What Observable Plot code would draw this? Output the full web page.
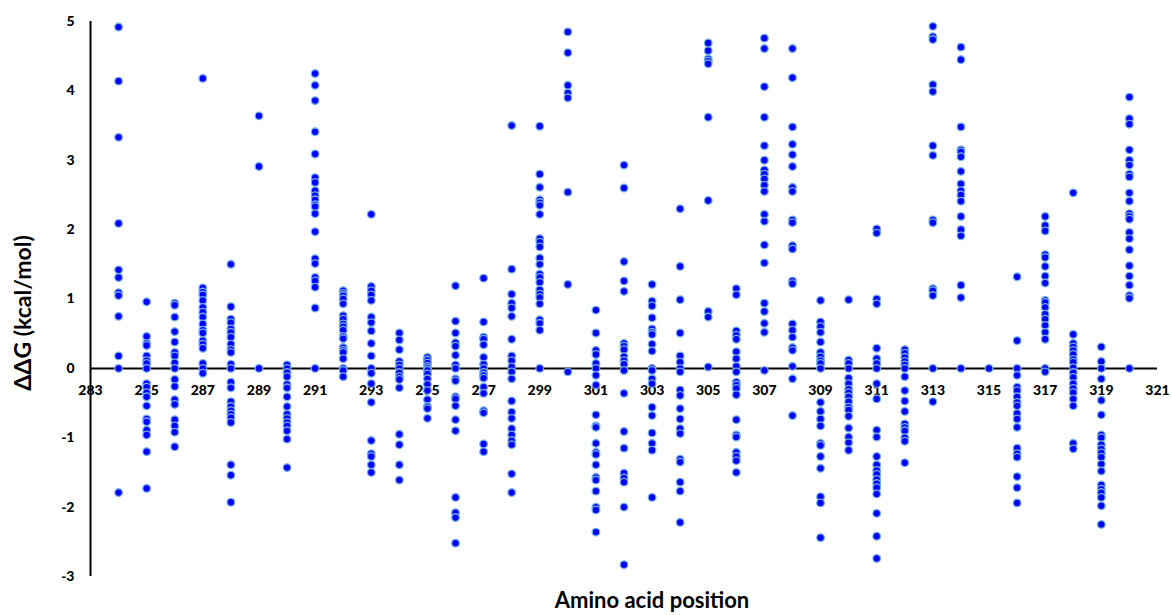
<!DOCTYPE html>
<html>
<head>
<meta charset="utf-8">
<script src="https://cdn.jsdelivr.net/npm/d3@7"></script>
<script src="https://cdn.jsdelivr.net/npm/@observablehq/plot@0.6"></script>
<style>
  html, body { margin: 0; padding: 0; background: #fff; }
  #chart svg { display: block; }
</style>
</head>
<body>
<div id="chart"></div>
<script>
// ΔΔG values (kcal/mol) per amino acid position
const pos284 = [4.92, 4.14, 3.33, 2.09, 1.42, 1.31, 1.09, 1.05, 0.75, 0.18, 0, -1.79];
const pos285 = [0.96, 0.46, 0.36, 0.33, 0.18, 0.11, 0.07, 0, -0.22, -0.27, -0.35, -0.41, -0.54, -0.73, -0.77, -0.89, -0.96, -1.2, -1.73];
const pos286 = [0.94, 0.91, 0.74, 0.53, 0.38, 0.23, 0.18, 0.08, 0, -0.16, -0.26, -0.45, -0.52, -0.74, -0.83, -0.92, -1.13];
const pos287 = [4.18, 1.16, 1.1, 1.06, 0.98, 0.88, 0.81, 0.74, 0.64, 0.55, 0.51, 0.4, 0.35, 0.29, 0.07, 0, -0.07];
const pos288 = [1.5, 0.89, 0.71, 0.66, 0.57, 0.52, 0.45, 0.35, 0.27, 0.23, 0.06, 0, -0.2, -0.28, -0.48, -0.55, -0.61, -0.66, -0.71, -0.78, -1.39, -1.54, -1.93];
const pos289 = [3.64, 2.91, 0];
const pos290 = [0.05, 0, -0.06, -0.12, -0.23, -0.28, -0.41, -0.55, -0.66, -0.72, -0.78, -0.83, -0.9, -1.02, -1.43];
const pos291 = [4.25, 4.08, 3.86, 3.41, 3.09, 2.75, 2.68, 2.56, 2.49, 2.43, 2.36, 2.33, 2.23, 1.97, 1.58, 1.51, 1.31, 1.26, 1.17, 0.87, 0];
const pos292 = [1.12, 1.08, 1.05, 1.0, 0.93, 0.76, 0.71, 0.64, 0.6, 0.55, 0.46, 0.43, 0.3, 0.26, 0.23, 0.14, 0, -0.03, -0.12];
const pos293 = [2.22, 1.18, 1.12, 1.06, 0.98, 0.74, 0.66, 0.54, 0.36, 0.18, 0, -0.07, -0.22, -0.49, -1.04, -1.23, -1.27, -1.39, -1.5];
const pos294 = [0.51, 0.41, 0.27, 0.1, 0.05, 0, -0.06, -0.12, -0.16, -0.28, -0.95, -1.1, -1.39, -1.61];
const pos295 = [0.16, 0.12, 0.08, 0.03, 0, -0.03, -0.08, -0.15, -0.23, -0.32, -0.45, -0.55, -0.58, -0.72];
const pos296 = [1.19, 0.68, 0.51, 0.37, 0.32, 0.19, 0.05, 0, -0.15, -0.18, -0.41, -0.44, -0.54, -0.74, -0.9, -1.86, -2.08, -2.15, -2.52];
const pos297 = [1.3, 0.67, 0.45, 0.42, 0.34, 0.16, 0.06, 0, -0.06, -0.1, -0.14, -0.27, -0.36, -0.61, -0.64, -1.09, -1.2];
const pos298 = [3.5, 1.43, 1.07, 0.94, 0.87, 0.75, 0.42, 0.18, 0.11, 0.02, -0.05, -0.15, -0.47, -0.63, -0.72, -0.87, -0.96, -1.04, -1.1, -1.52, -1.79];
const pos299 = [3.49, 2.8, 2.61, 2.43, 2.39, 2.35, 2.22, 1.87, 1.82, 1.75, 1.59, 1.5, 1.36, 1.31, 1.24, 1.13, 1.07, 1.02, 0.93, 0.7, 0.65, 0.55, 0];
const pos300 = [4.85, 4.55, 4.08, 3.97, 3.9, 2.54, 1.21, -0.05];
const pos301 = [0.84, 0.51, 0.26, 0.2, 0.07, 0, -0.1, -0.24, -0.67, -0.83, -0.85, -1.08, -1.21, -1.24, -1.39, -1.57, -1.61, -1.77, -2.0, -2.04, -2.36];
const pos302 = [2.93, 2.6, 1.54, 1.26, 1.11, 0.36, 0.32, 0.27, 0.17, 0.11, 0.06, -0.03, -0.36, -0.91, -1.15, -1.51, -1.58, -1.64, -2.0, -2.83];
const pos303 = [1.21, 0.97, 0.9, 0.73, 0.57, 0.52, 0.49, 0.35, 0.25, 0, -0.03, -0.15, -0.22, -0.56, -0.68, -0.93, -1.08, -1.18, -1.86];
const pos304 = [2.3, 1.47, 0.99, 0.51, 0.18, 0.09, 0, -0.05, -0.31, -0.39, -0.58, -0.73, -0.87, -0.94, -1.31, -1.35, -1.64, -1.77, -2.22];
const pos305 = [4.69, 4.58, 4.46, 4.43, 4.39, 3.62, 2.42, 0.82, 0.74, 0.02];
const pos306 = [1.15, 1.06, 0.54, 0.48, 0.42, 0.24, 0.14, 0.03, -0.05, -0.2, -0.24, -0.29, -0.38, -0.74, -0.96, -0.99, -1.21, -1.27, -1.33, -1.5];
const pos307 = [4.76, 4.61, 4.06, 3.62, 3.21, 3.0, 2.86, 2.8, 2.73, 2.64, 2.55, 2.22, 2.12, 1.78, 1.52, 0.94, 0.82, 0.65, 0.52, -0.03];
const pos308 = [4.61, 4.19, 3.48, 3.23, 3.08, 2.91, 2.61, 2.55, 2.14, 2.1, 1.77, 1.72, 1.26, 1.22, 0.64, 0.55, 0.45, 0.3, 0.26, 0.03, -0.15, -0.68];
const pos309 = [0.98, 0.67, 0.6, 0.52, 0.38, 0.23, 0.17, 0.11, 0.07, 0, -0.49, -0.62, -0.73, -0.83, -1.08, -1.11, -1.27, -1.44, -1.85, -1.94, -2.44];
const pos310 = [0.99, 0.12, 0.07, 0, -0.14, -0.22, -0.3, -0.35, -0.41, -0.48, -0.56, -0.6, -0.69, -0.86, -0.99, -1.07, -1.18];
const pos311 = [2.01, 1.95, 1.0, 0.93, 0.29, 0.14, 0.07, 0, -0.22, -0.44, -0.89, -0.99, -1.27, -1.39, -1.47, -1.53, -1.6, -1.66, -1.72, -1.81, -2.09, -2.42, -2.74];
const pos312 = [0.27, 0.22, 0.16, 0.1, 0.05, 0, -0.12, -0.32, -0.47, -0.62, -0.8, -0.85, -0.9, -1.0, -1.05, -1.36];
const pos313 = [4.93, 4.78, 4.74, 4.09, 3.99, 3.21, 3.07, 2.14, 2.1, 1.15, 1.12, 1.05, 0, -0.48];
const pos314 = [4.63, 4.45, 3.48, 3.15, 3.12, 3.05, 2.84, 2.66, 2.56, 2.5, 2.41, 2.19, 2.0, 1.91, 1.2, 1.02, 0];
const pos315 = [0];
const pos316 = [1.32, 0.4, 0, -0.1, -0.27, -0.32, -0.41, -0.49, -0.54, -0.65, -0.73, -0.85, -1.15, -1.23, -1.28, -1.56, -1.72, -1.94];
const pos317 = [2.19, 2.06, 1.98, 1.64, 1.6, 1.47, 1.33, 1.23, 0.98, 0.95, 0.88, 0.78, 0.71, 0.62, 0.52, 0.42, 0, -0.05];
const pos318 = [2.53, 0.49, 0.36, 0.31, 0.26, 0.2, 0.13, 0.09, 0.01, -0.06, -0.13, -0.22, -0.29, -0.35, -0.44, -0.54, -1.08, -1.16];
const pos319 = [0.31, 0.1, 0, -0.15, -0.46, -0.67, -0.96, -1.0, -1.1, -1.16, -1.22, -1.28, -1.38, -1.48, -1.68, -1.74, -1.79, -1.86, -1.98, -2.25];
const pos320 = [3.91, 3.6, 3.52, 3.15, 3.0, 2.93, 2.8, 2.76, 2.53, 2.41, 2.23, 2.19, 2.15, 1.96, 1.87, 1.71, 1.48, 1.33, 1.2, 1.05, 1.01, 0];

const positions = [284,285,286,287,288,289,290,291,292,293,294,295,296,297,298,299,300,301,302,303,304,305,306,307,308,309,310,311,312,313,314,315,316,317,318,319,320];
const valueLists = [pos284,pos285,pos286,pos287,pos288,pos289,pos290,pos291,pos292,pos293,pos294,pos295,pos296,pos297,pos298,pos299,pos300,pos301,pos302,pos303,pos304,pos305,pos306,pos307,pos308,pos309,pos310,pos311,pos312,pos313,pos314,pos315,pos316,pos317,pos318,pos319,pos320];

const xTicks = [283,285,287,289,291,293,295,297,299,301,303,305,307,309,311,313,315,317,319,321];
const yTicks = [-3,-2,-1,0,1,2,3,4,5];
const xTitle = "Amino acid position";
const yTitle = "ΔΔG (kcal/mol)";

const points = positions.flatMap((p, i) => valueLists[i].map(v => ({position: p, ddg: v})));

const font = "Lato, 'Open Sans', sans-serif";

const chart = Plot.plot({
  width: 1172,
  height: 615,
  marginLeft: 90,
  marginRight: 15,
  marginTop: 21,
  marginBottom: 39,
  style: {fontFamily: font, background: "#fff", color: "#000"},
  x: {domain: [283, 321], axis: null},
  y: {domain: [-3, 5], axis: null},
  marks: [
    Plot.ruleX([283], {stroke: "#000", strokeWidth: 2}),
    Plot.ruleY([0], {stroke: "#000", strokeWidth: 2}),
    Plot.text(yTicks, {x: 283, y: d => d, text: d => String(d), textAnchor: "end", dx: -16, fontSize: 14, fontWeight: 900, fill: "#000"}),
    Plot.text(xTicks, {x: d => d, y: 0, text: d => String(d), dy: 22, fontSize: 14, fontWeight: 900, fill: "#000"}),
    Plot.dot(points, {x: "position", y: "ddg", r: 3.8, fill: "#0000ff", stroke: "#74aee6", strokeWidth: 1.3}),
    Plot.text([yTitle], {frameAnchor: "left", textAnchor: "middle", lineAnchor: "middle", dx: -67, dy: 14, rotate: -90, fontSize: 23, fontWeight: "bold", fill: "#000"}),
    Plot.text([xTitle], {frameAnchor: "bottom", textAnchor: "middle", lineAnchor: "middle", dx: 28, dy: 24, fontSize: 22, fontWeight: "bold", fill: "#000"})
  ]
});

document.getElementById("chart").appendChild(chart);
</script>
</body>
</html>
